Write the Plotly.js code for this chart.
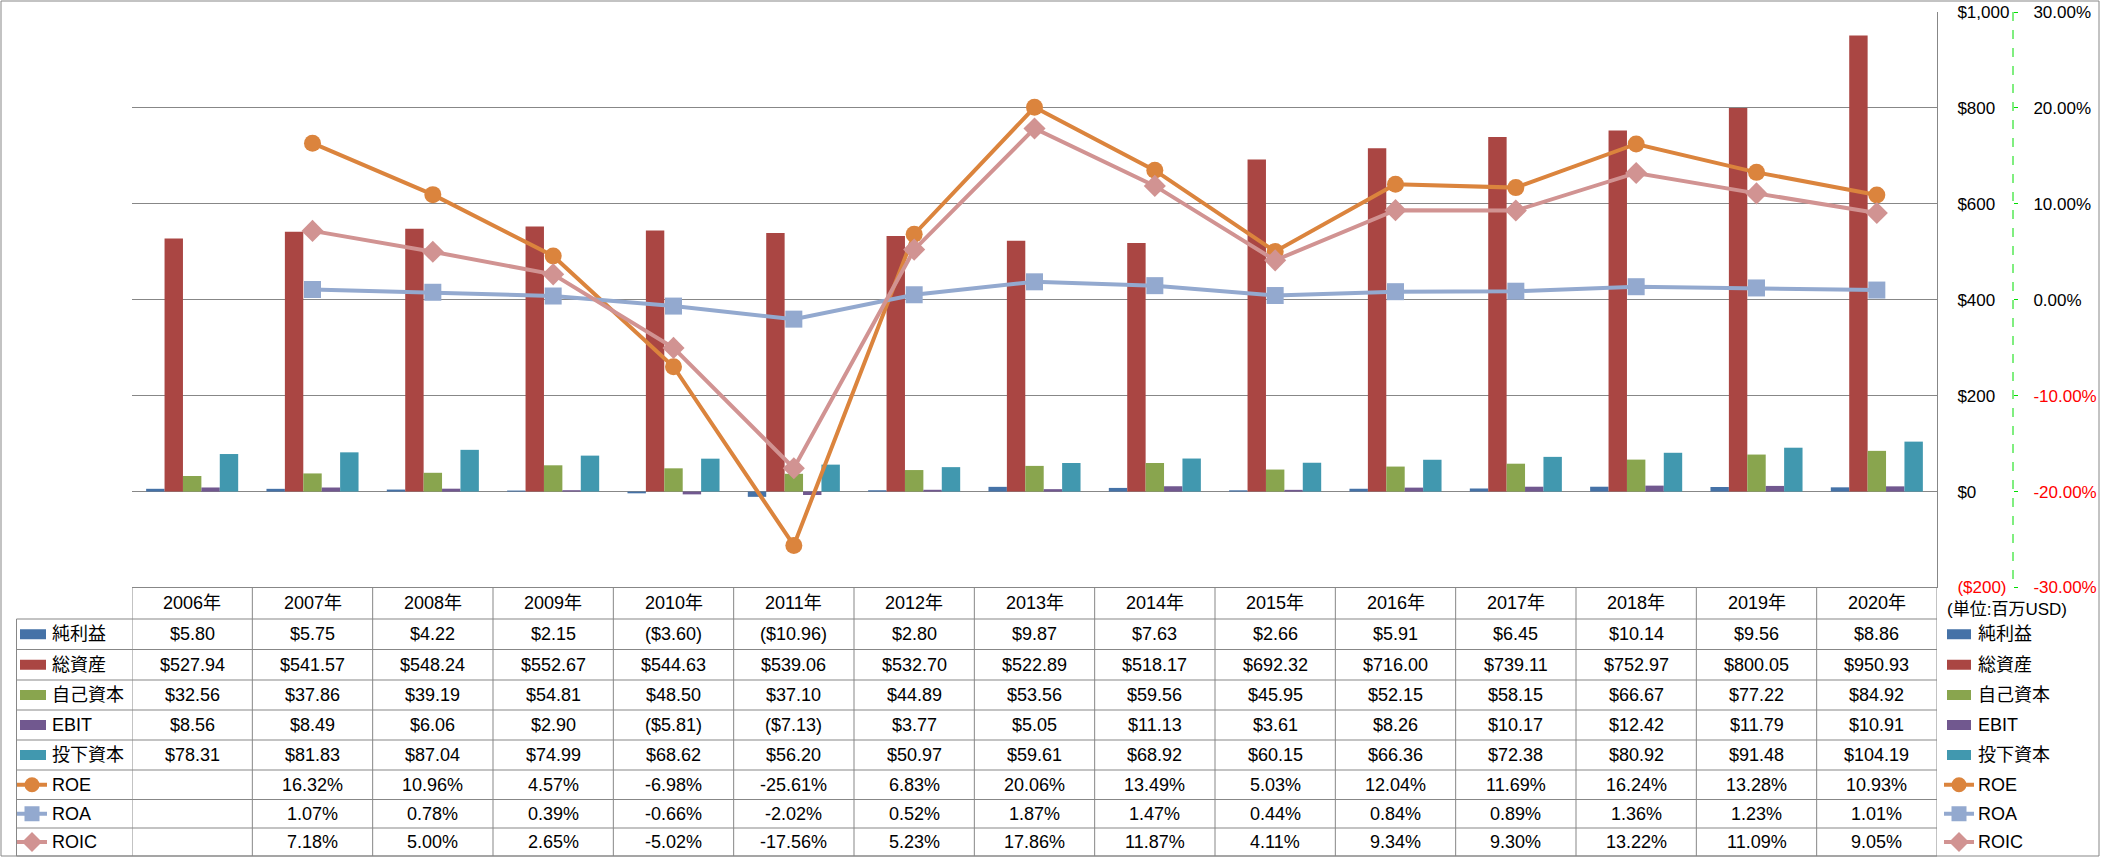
<!DOCTYPE html>
<html><head><meta charset="utf-8">
<script src="https://cdn.plot.ly/plotly-3.0.1.min.js"></script>
<style>html,body{margin:0;padding:0;background:#fff}#chart{width:2101px;height:858px}</style>
</head><body><div id="chart"></div>
<script>
// ---- data ----
const categories = ["2006年","2007年","2008年","2009年","2010年","2011年","2012年","2013年","2014年","2015年","2016年","2017年","2018年","2019年","2020年"];
const netIncome   = [5.80,5.75,4.22,2.15,-3.60,-10.96,2.80,9.87,7.63,2.66,5.91,6.45,10.14,9.56,8.86];
const totalAssets = [527.94,541.57,548.24,552.67,544.63,539.06,532.70,522.89,518.17,692.32,716.00,739.11,752.97,800.05,950.93];
const equity      = [32.56,37.86,39.19,54.81,48.50,37.10,44.89,53.56,59.56,45.95,52.15,58.15,66.67,77.22,84.92];
const ebit        = [8.56,8.49,6.06,2.90,-5.81,-7.13,3.77,5.05,11.13,3.61,8.26,10.17,12.42,11.79,10.91];
const investedCap = [78.31,81.83,87.04,74.99,68.62,56.20,50.97,59.61,68.92,60.15,66.36,72.38,80.92,91.48,104.19];
const roe  = [null,16.32,10.96,4.57,-6.98,-25.61,6.83,20.06,13.49,5.03,12.04,11.69,16.24,13.28,10.93];
const roa  = [null,1.07,0.78,0.39,-0.66,-2.02,0.52,1.87,1.47,0.44,0.84,0.89,1.36,1.23,1.01];
const roic = [null,7.18,5.00,2.65,-5.02,-17.56,5.23,17.86,11.87,4.11,9.34,9.30,13.22,11.09,9.05];
const barNames  = ["純利益","総資産","自己資本","EBIT","投下資本"];
const lineNames = ["ROE","ROA","ROIC"];
const leftTickVals  = [-200,0,200,400,600,800,1000];
const leftTickText  = ['<span style="color:#FF0000">($200)</span>',"$0","$200","$400","$600","$800","$1,000"];
const rightTickVals = [-30,-20,-10,0,10,20,30];
const rightTickText = ['<span style="color:#FF0000">-30.00%</span>','<span style="color:#FF0000">-20.00%</span>','<span style="color:#FF0000">-10.00%</span>',"0.00%","10.00%","20.00%","30.00%"];
const unitLabel = "(単位:百万USD)";

// ---- styling ----
const barSeries  = [netIncome,totalAssets,equity,ebit,investedCap];
const lineSeries = [roe,roa,roic];
const barColors  = ["#4572A7","#AA4643","#89A54E","#71588F","#4198AF"];
const lineColors = ["#DB843D","#93A9CF","#D19392"];
const lineSymbols = ["circle","square","diamond"];
const W = 2101, H = 858;
const px = x => x / W, py = y => 1 - y / H;
const GRID = "#878787";
const FONT = "Liberation Sans, Noto Sans CJK JP, sans-serif";

const plotL = 132, plotR = 1937, plotT = 12, plotB = 587.5;
const rowLines = [587.5, 619, 649.5, 680, 710, 740, 770, 799.5, 828, 856];
const rowCenter = r => (rowLines[r] + rowLines[r+1]) / 2;

const idx = categories.map((_, i) => i);
const traces = [];
barSeries.forEach((s, k) => traces.push({
  type: "bar", name: barNames[k], x: idx, y: s, xaxis: "x", yaxis: "y",
  marker: {color: barColors[k], line: {width: 0}}, hoverinfo: "skip"
}));
lineSeries.forEach((s, k) => traces.push({
  type: "scatter", mode: "lines+markers", name: lineNames[k], x: idx, y: s, xaxis: "x", yaxis: "y2",
  line: {color: lineColors[k], width: 4}, connectgaps: false,
  marker: {symbol: lineSymbols[k], size: 17, color: lineColors[k]}, hoverinfo: "skip"
}));

function money(v) {
  const s = "$" + Math.abs(v).toFixed(2);
  return v < 0 ? "(" + s + ")" : s;
}
function pct(v) { return v === null ? "" : v.toFixed(2) + "%"; }

const shapes = [], annotations = [];
const L = (x0, y0, x1, y1, xref) => shapes.push({type: "line", xref: xref || "paper", yref: "paper",
  x0: x0, y0: py(y0), x1: x1, y1: py(y1), line: {color: GRID, width: 1}});

// outer chart border
shapes.push({type: "rect", xref: "paper", yref: "paper", x0: px(1), y0: py(856), x1: px(2099), y1: py(1),
  line: {color: GRID, width: 1}, fillcolor: "rgba(0,0,0,0)"});
// table horizontal lines
L(-0.5, rowLines[0], 14.5, rowLines[0], "x");
for (let r = 1; r < rowLines.length; r++) L(px(16.5), rowLines[r], px(plotR), rowLines[r]);
// table vertical lines
for (let i = 0; i <= categories.length; i++) L(i - 0.5, rowLines[0], i - 0.5, rowLines[9], "x");
L(px(16.5), rowLines[1], px(16.5), rowLines[9]);
// secondary axis dashed line
shapes.push({type: "line", xref: "paper", yref: "paper", x0: px(2013), x1: px(2013), y0: py(plotT), y1: py(plotB),
  line: {color: "#00DD00", width: 1, dash: "dash"}});

// header
categories.forEach((c, i) => annotations.push({x: i, xref: "x", y: py(rowCenter(0)), yref: "paper", text: c,
  showarrow: false, xanchor: "center", yanchor: "middle", font: {size: 18, color: "#000"}}));
// bar rows
barSeries.forEach((s, k) => {
  const yc = rowCenter(k + 1);
  s.forEach((v, i) => annotations.push({x: i, xref: "x", y: py(yc), yref: "paper", text: money(v),
    showarrow: false, xanchor: "center", yanchor: "middle", font: {size: 18, color: "#000"}}));
  [[20, 46, 50], [1947, 1971, 1976]].forEach(([a, b, t]) => {
    shapes.push({type: "rect", xref: "paper", yref: "paper", x0: px(a), x1: px(b), y0: py(yc + 5), y1: py(yc - 5),
      fillcolor: barColors[k], line: {width: 0}});
    annotations.push({x: px(t), xref: "paper", y: py(yc), yref: "paper", text: barNames[k], showarrow: false,
      xanchor: "left", yanchor: "middle", font: {size: 18, color: "#000"}});
  });
});
// line rows
lineSeries.forEach((s, k) => {
  const yc = rowCenter(k + 6);
  s.forEach((v, i) => annotations.push({x: i, xref: "x", y: py(yc), yref: "paper", text: pct(v),
    showarrow: false, xanchor: "center", yanchor: "middle", font: {size: 18, color: "#000"}}));
  [[17, 47, 50], [1944, 1974, 1976]].forEach(([a, b, t]) => {
    const c = (a + b) / 2;
    shapes.push({type: "line", xref: "paper", yref: "paper", x0: px(a), x1: px(b), y0: py(yc), y1: py(yc),
      line: {color: lineColors[k], width: 4}});
    const r = 7.5;
    if (k === 0) shapes.push({type: "circle", xref: "paper", yref: "paper", x0: px(c - r), x1: px(c + r),
      y0: py(yc + r), y1: py(yc - r), fillcolor: lineColors[k], line: {width: 0}});
    else if (k === 1) shapes.push({type: "rect", xref: "paper", yref: "paper", x0: px(c - r), x1: px(c + r),
      y0: py(yc + r), y1: py(yc - r), fillcolor: lineColors[k], line: {width: 0}});
    else {
      const d = 10;
      shapes.push({type: "path", xref: "paper", yref: "paper",
        path: `M ${px(c - d)} ${py(yc)} L ${px(c)} ${py(yc - d)} L ${px(c + d)} ${py(yc)} L ${px(c)} ${py(yc + d)} Z`,
        fillcolor: lineColors[k], line: {width: 0}});
    }
    annotations.push({x: px(t), xref: "paper", y: py(yc), yref: "paper", text: lineNames[k], showarrow: false,
      xanchor: "left", yanchor: "middle", font: {size: 18, color: "#000"}});
  });
});
// unit label
annotations.push({x: px(1945), xref: "paper", y: py(609), yref: "paper", text: unitLabel, showarrow: false,
  xanchor: "left", yanchor: "middle", font: {size: 17, color: "#000"}});

const layout = {
  width: W, height: H, margin: {l: 0, r: 0, t: 0, b: 0},
  paper_bgcolor: "#fff", plot_bgcolor: "rgba(0,0,0,0)",
  font: {family: FONT, size: 17, color: "#000"},
  showlegend: false, barmode: "group", bargap: 0.235, bargroupgap: 0,
  xaxis: {domain: [px(plotL), px(plotR)], type: "linear", range: [-0.5, 14.5], showticklabels: false,
    showgrid: false, zeroline: false, showline: false, ticks: "", fixedrange: true},
  yaxis: {domain: [py(plotB), py(plotT)], range: [-200, 1000], side: "right",
    tickvals: leftTickVals, ticktext: leftTickText, showgrid: true, gridcolor: GRID, gridwidth: 1,
    zeroline: false, showline: true, linecolor: GRID, linewidth: 1, ticks: "", ticklabelstandoff: 16,
    tickfont: {size: 17, color: "#000"}, fixedrange: true},
  yaxis2: {overlaying: "y", anchor: "free", position: px(2013), side: "right", range: [-30, 30],
    tickvals: rightTickVals, ticktext: rightTickText, showgrid: false, zeroline: false, showline: false,
    ticks: "outside", ticklen: 4, tickwidth: 1, tickcolor: "#00DD00", ticklabelstandoff: 12,
    tickfont: {size: 17, color: "#000"}, fixedrange: true},
  shapes: shapes, annotations: annotations
};
Plotly.newPlot("chart", traces, layout, {staticPlot: true, displayModeBar: false});
</script></body></html>
